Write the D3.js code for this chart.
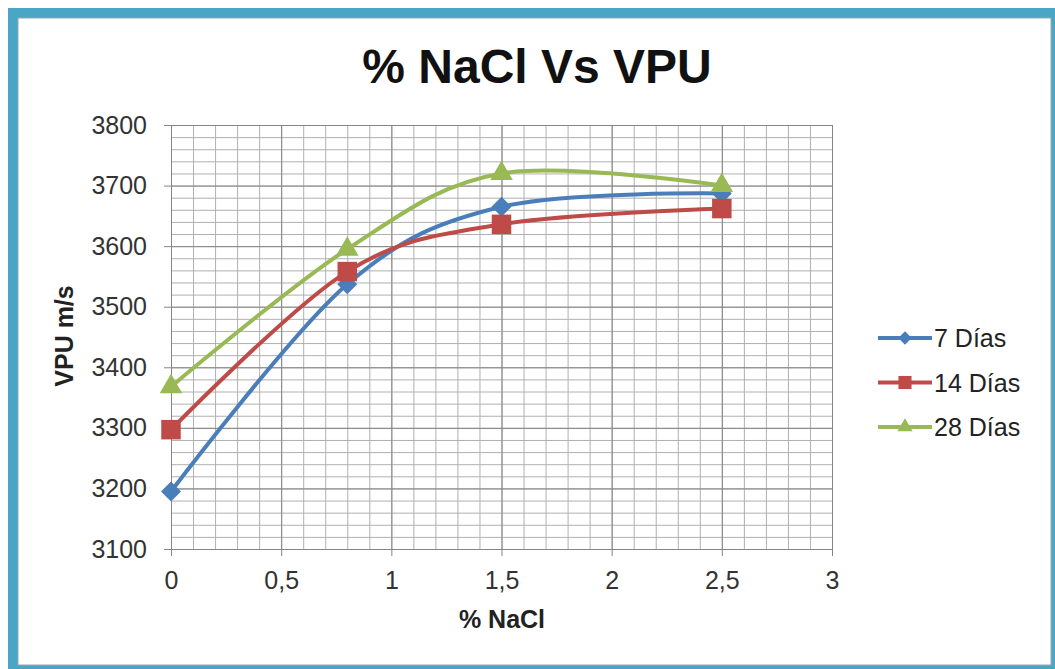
<!DOCTYPE html>
<html>
<head>
<meta charset="utf-8">
<script src="https://cdn.jsdelivr.net/npm/d3@7"></script>
<style>
  body { margin: 0; background: #fff; }
  svg { display: block; font-family: "Liberation Sans", Arial, sans-serif; }
</style>
</head>
<body>
<svg id="chart" width="1055" height="669"></svg>
<script>
// data
const nacl = [0, 0.8, 1.5, 2.5];
const dias7 = [3195, 3537, 3665, 3687];
const dias14 = [3297, 3558, 3636, 3662];
const dias28 = [3368, 3595, 3720, 3700];
const seriesNames = ["7 Días", "14 Días", "28 Días"];
const xTicks = [0, 0.5, 1, 1.5, 2, 2.5, 3];
const yTicks = [3100, 3200, 3300, 3400, 3500, 3600, 3700, 3800];

// excel style diamond: a square turned 45 degrees
const diamond = {
    draw(ctx, size) {
        const r = Math.sqrt(size / 2);
        ctx.moveTo(0, -r); ctx.lineTo(r, 0); ctx.lineTo(0, r); ctx.lineTo(-r, 0); ctx.closePath();
    }
};

const series = [
    { name: seriesNames[0], values: dias7, color: "#4a7ebb", symbol: diamond, size: 200 },
    { name: seriesNames[1], values: dias14, color: "#be4b48", symbol: d3.symbolSquare, size: 380 },
    { name: seriesNames[2], values: dias28, color: "#98b954", symbol: d3.symbolTriangle, size: 220 }
];

const svg = d3.select("#chart");

// frame
svg.append("rect").attr("x", 8).attr("y", 8).attr("width", 1047).attr("height", 661).attr("fill", "#4ba6c6");
svg.append("rect").attr("x", 18).attr("y", 18).attr("width", 1033).attr("height", 647)
    .attr("fill", "#fff").attr("stroke", "#9aa7ad").attr("stroke-width", 1);

const margin = { top: 125, left: 171 };
const width = 661, height = 424;
const g = svg.append("g").attr("transform", `translate(${margin.left},${margin.top})`);

const x = d3.scaleLinear().domain([0, 3]).range([0, width]);
const y = d3.scaleLinear().domain([3100, 3800]).range([height, 0]);

// minor grid
g.append("g")
    .call(d3.axisBottom(x).tickValues(d3.range(0, 3.001, 0.1)).tickSize(-height).tickFormat(""))
    .attr("transform", `translate(0,${height})`)
    .call(a => a.select(".domain").remove())
    .call(a => a.selectAll("line").attr("stroke", "#b0b0b0"));
g.append("g")
    .call(d3.axisLeft(y).tickValues(d3.range(3100, 3801, 20)).tickSize(-width).tickFormat(""))
    .call(a => a.select(".domain").remove())
    .call(a => a.selectAll("line").attr("stroke", "#b0b0b0"));

// major grid
g.append("g")
    .call(d3.axisBottom(x).tickValues(xTicks).tickSize(-height).tickFormat(""))
    .attr("transform", `translate(0,${height})`)
    .call(a => a.select(".domain").remove())
    .call(a => a.selectAll("line").attr("stroke", "#858585"));
g.append("g")
    .call(d3.axisLeft(y).tickValues(yTicks).tickSize(-width).tickFormat(""))
    .call(a => a.select(".domain").remove())
    .call(a => a.selectAll("line").attr("stroke", "#858585"));

// axes
const fmt = d => String(d).replace(".", ",");
g.append("g")
    .attr("transform", `translate(0,${height})`)
    .call(d3.axisBottom(x).tickValues(xTicks).tickSize(7).tickPadding(15).tickFormat(fmt))
    .call(a => a.select(".domain").attr("stroke", "#858585"))
    .call(a => a.selectAll("line").attr("stroke", "#858585"))
    .call(a => a.selectAll("text").attr("font-size", 25).attr("fill", "#333").attr("font-family", "Liberation Sans, Arial, sans-serif"));
g.append("g")
    .call(d3.axisLeft(y).tickValues(yTicks).tickSize(7).tickPadding(17).tickFormat(d3.format("d")))
    .call(a => a.select(".domain").attr("stroke", "#858585"))
    .call(a => a.selectAll("line").attr("stroke", "#858585"))
    .call(a => a.selectAll("text").attr("font-size", 25).attr("fill", "#333").attr("font-family", "Liberation Sans, Arial, sans-serif"));

// lines
const line = d3.line()
    .x((d, i) => x(nacl[i]))
    .y(d => y(d))
    .curve(d3.curveCatmullRom.alpha(0));

series.forEach(s => {
    g.append("path")
        .datum(s.values)
        .attr("fill", "none")
        .attr("stroke", s.color)
        .attr("stroke-width", 4)
        .attr("d", line);
});

series.forEach(s => {
    g.selectAll(null)
        .data(s.values)
        .join("path")
        .attr("transform", (d, i) => `translate(${x(nacl[i])},${y(d)})`)
        .attr("d", d3.symbol().type(s.symbol).size(s.size))
        .attr("fill", s.color);
});

// titles
svg.append("text")
    .attr("x", 537).attr("y", 83)
    .attr("text-anchor", "middle")
    .attr("font-size", 48).attr("font-weight", "bold").attr("fill", "#111")
    .text("% NaCl Vs VPU");

svg.append("text")
    .attr("x", 502).attr("y", 628)
    .attr("text-anchor", "middle")
    .attr("font-size", 25).attr("font-weight", "bold").attr("fill", "#222")
    .text("% NaCl");

svg.append("text")
    .attr("transform", "translate(73,336) rotate(-90)")
    .attr("text-anchor", "middle")
    .attr("font-size", 25).attr("font-weight", "bold").attr("fill", "#222")
    .text("VPU m/s");

// legend
const legend = svg.append("g").attr("transform", "translate(878,338)");
series.forEach((s, i) => {
    const row = legend.append("g").attr("transform", `translate(0,${i * 44.5})`);
    row.append("line").attr("x1", 0).attr("x2", 54).attr("stroke", s.color).attr("stroke-width", 4);
    row.append("path").attr("transform", "translate(27,0)")
        .attr("d", d3.symbol().type(s.symbol).size(s.size * 0.45)).attr("fill", s.color);
    row.append("text").attr("x", 56).attr("y", 9)
        .attr("font-size", 25).attr("fill", "#222").text(s.name);
});
</script>
</body>
</html>
